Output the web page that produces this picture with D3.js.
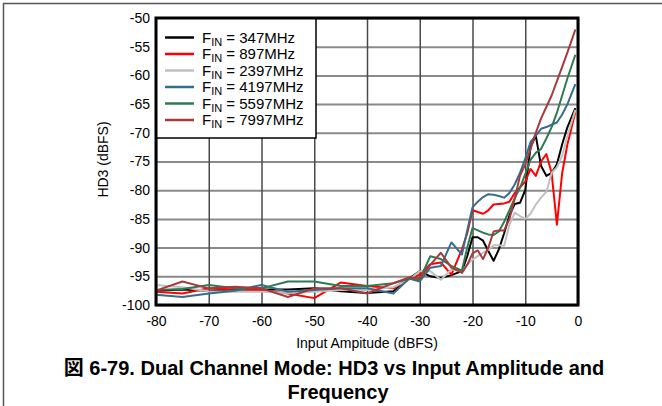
<!DOCTYPE html>
<html>
<head>
<meta charset="utf-8">
<script src="https://cdn.jsdelivr.net/npm/d3@7"></script>
<style>
body { margin: 0; background: #fff; }
svg { display: block; font-family: "Liberation Sans", Arial, "Noto Sans CJK JP", sans-serif; }
</style>
</head>
<body>
<div id="chart"></div>
<script>
// input amplitude (dBFS), shared by every series
var amplitude = [-80,-75,-70,-65,-60,-55,-50,-45,-40,-35,-32,-30,-28,-26,-24,-22,-21,-20,-19,-18,-17,-16,-15,-14,-13,-12,-11,-10,-9,-8,-7,-6,-5,-4,-3,-2,-0.5];

// HD3 (dBFS) per input frequency
var hd3_347  = [-97.5,-97.3,-97.5,-97.3,-97.3,-97.3,-97.1,-97.6,-97.9,-97.6,-95.4,-94.1,-95,-95.3,-94.8,-94.1,-91.5,-88.2,-88.2,-88.8,-90.6,-92.3,-90.3,-87.5,-84.4,-82.4,-82.2,-80,-72.5,-70.5,-75.8,-77.5,-77,-75.5,-72,-69,-65.7];
var hd3_897  = [-97.7,-98.0,-97.1,-97.3,-97.4,-98.0,-98.8,-96.1,-96.7,-97.1,-95.4,-94.7,-92.9,-92.6,-94.7,-90.3,-87.5,-83.5,-83.8,-84.1,-83.5,-82.5,-82.4,-82.3,-82,-80.5,-79.5,-78.5,-76.3,-77.5,-75,-73.7,-77,-86,-77,-72,-66.4];
var hd3_2397 = [-96.5,-96.9,-97.6,-97.7,-97.7,-97.9,-97.7,-97.4,-97.4,-96.9,-95.6,-94.1,-94.1,-95.6,-93.8,-94.1,-93,-92.1,-91.5,-90.9,-90.4,-89.6,-89.6,-89.7,-86,-83.9,-84.5,-85,-84.1,-82.5,-81.3,-80.3,-77,-76,-74,-70.5,-66];
var hd3_4197 = [-98.2,-98.6,-98.0,-97.5,-96.5,-97.7,-97.4,-97.1,-97.1,-98,-95.4,-95.9,-93.5,-93.2,-89.1,-91.2,-87,-83,-82,-81.2,-80.7,-80.8,-81,-81.3,-80.5,-79,-77,-74.5,-71.6,-70.5,-69.3,-69,-68.6,-68.2,-66.8,-65,-61.5];
var hd3_5597 = [-97.4,-97.2,-96.5,-97.1,-97.1,-95.9,-95.9,-96.7,-96.7,-96.2,-95.4,-95.6,-91.5,-92,-93.2,-94,-90,-86.6,-87,-87.4,-87.7,-87.8,-87.2,-85.5,-83.5,-81.4,-79.6,-77.2,-74.7,-73.5,-72.8,-71,-69,-66.5,-63.5,-60.5,-56.4];
var hd3_7997 = [-97.5,-95.9,-97.1,-96.8,-97.1,-98.6,-97.1,-97.1,-98,-96.2,-95.2,-95.3,-93,-90.9,-93.5,-94.4,-93,-91,-90.5,-92,-90,-87.2,-87,-87,-85,-81.5,-77.5,-75.5,-72.8,-70,-67.5,-65.5,-63.5,-61,-58.5,-56,-52];

var finLabels = [" = 347MHz", " = 897MHz", " = 2397MHz", " = 4197MHz", " = 5597MHz", " = 7997MHz"];
var finColors = ["#000000", "#ff0000", "#c0c0c0", "#356e8c", "#2f7a52", "#a83a3c"];
var seriesValues = [hd3_347, hd3_897, hd3_2397, hd3_4197, hd3_5597, hd3_7997];

var xTicks = [-80,-70,-60,-50,-40,-30,-20,-10,0];
var yTicks = [-50,-55,-60,-65,-70,-75,-80,-85,-90,-95,-100];

// set the dimensions and margins of the graph
var margin = {top: 18, right: 84, bottom: 101, left: 156};
var width = 662 - margin.left - margin.right;
var height = 406 - margin.top - margin.bottom;

var x = d3.scaleLinear().domain([-80, 0]).range([0, width]);
var y = d3.scaleLinear().domain([-100, -50]).range([height, 0]);

// plain hyphen for negative numbers, like the original
var fmt = function(d) { return String(d); };

var svg = d3.select("#chart").append("svg")
    .attr("width", 662)
    .attr("height", 406);

// figure frame (top and left edge)
svg.append("path")
    .attr("d", "M3.5,406 L3.5,3.5 L662,3.5")
    .attr("fill", "none")
    .attr("stroke", "#555")
    .attr("stroke-width", 1.5);

var g = svg.append("g")
    .attr("transform", "translate(" + margin.left + "," + margin.top + ")");

// grid lines
g.append("g")
    .attr("class", "grid")
    .call(d3.axisLeft(y).tickValues(yTicks).tickSize(-width).tickFormat(""))
    .call(function(s) {
      s.select(".domain").remove();
      s.selectAll("line").attr("stroke", "#8a8a8a").attr("stroke-width", 2);
    });
g.append("g")
    .attr("class", "grid")
    .attr("transform", "translate(0," + height + ")")
    .call(d3.axisBottom(x).tickValues(xTicks).tickSize(-height).tickFormat(""))
    .call(function(s) {
      s.select(".domain").remove();
      s.selectAll("line").attr("stroke", "#4a4a4a").attr("stroke-width", 1.5);
    });

// the lines
var line = d3.line()
    .x(function(d, i) { return x(amplitude[i]); })
    .y(function(d) { return y(d); });

seriesValues.forEach(function(vals, i) {
  g.append("path")
    .datum(vals)
    .attr("fill", "none")
    .attr("stroke", finColors[i])
    .attr("stroke-width", 2)
    .attr("stroke-linejoin", "round")
    .attr("d", line);
});

// legend
var legend = g.append("g");
legend.append("rect")
    .attr("x", 0).attr("y", 0)
    .attr("width", 160).attr("height", 120)
    .attr("fill", "#fff")
    .attr("stroke", "#000")
    .attr("stroke-width", 1.5);

var rows = legend.selectAll("g.row")
    .data(finLabels)
    .enter().append("g")
    .attr("class", "row")
    .attr("transform", function(d, i) { return "translate(0," + (19.5 + i * 16.5) + ")"; });
rows.append("line")
    .attr("x1", 9).attr("x2", 38)
    .attr("stroke", function(d, i) { return finColors[i]; })
    .attr("stroke-width", 2.5);
var lt = rows.append("text")
    .attr("x", 46)
    .attr("y", 5)
    .style("font-size", "15px")
    .attr("fill", "#000");
lt.append("tspan").text("F");
lt.append("tspan").attr("dy", 3).style("font-size", "11px").text("IN");
lt.append("tspan").attr("dy", -3).text(function(d) { return d; });

// plot border
g.append("rect")
    .attr("width", width)
    .attr("height", height)
    .attr("fill", "none")
    .attr("stroke", "#000")
    .attr("stroke-width", 3);

// tick labels
var yAxis = g.append("g")
    .call(d3.axisLeft(y).tickValues(yTicks).tickSize(0).tickPadding(6).tickFormat(fmt));
yAxis.select(".domain").remove();
yAxis.selectAll("text").style("font-size", "14px").attr("fill", "#000")
    .style("font-family", "'Liberation Sans', Arial, sans-serif");

var xAxis = g.append("g")
    .attr("transform", "translate(0," + height + ")")
    .call(d3.axisBottom(x).tickValues(xTicks).tickSize(0).tickPadding(11).tickFormat(fmt));
xAxis.select(".domain").remove();
xAxis.selectAll("text").style("font-size", "14px").attr("fill", "#000")
    .style("font-family", "'Liberation Sans', Arial, sans-serif");

// axis titles
g.append("text")
    .attr("x", width / 2)
    .attr("y", height + 43)
    .attr("text-anchor", "middle")
    .style("font-size", "14px")
    .text("Input Ampitude (dBFS)");

g.append("text")
    .attr("transform", "rotate(-90)")
    .attr("x", -height / 2 + 2)
    .attr("y", -48)
    .attr("text-anchor", "middle")
    .style("font-size", "14px")
    .text("HD3 (dBFS)");

// caption
svg.append("text")
    .attr("x", 334)
    .attr("y", 375)
    .attr("text-anchor", "middle")
    .style("font-size", "20px")
    .style("font-weight", "bold")
    .text("図 6-79. Dual Channel Mode: HD3 vs Input Amplitude and");
svg.append("text")
    .attr("x", 338)
    .attr("y", 399)
    .attr("text-anchor", "middle")
    .style("font-size", "20px")
    .style("font-weight", "bold")
    .text("Frequency");
</script>
</body>
</html>
